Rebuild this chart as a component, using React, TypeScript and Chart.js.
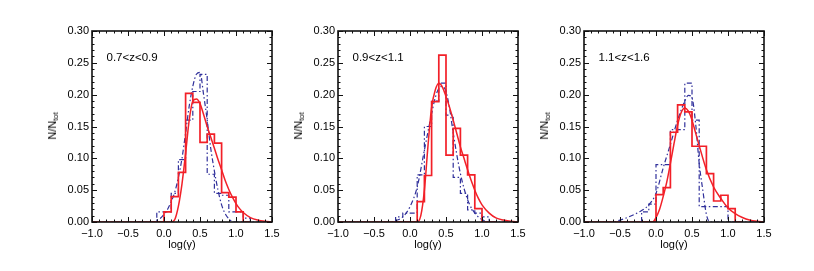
import React, { useEffect, useRef } from "react";
import { Chart, registerables } from "chart.js";

Chart.register(...registerables);

// ---------------- data ----------------
const binEdges = [-0.2, -0.1, 0.0, 0.1, 0.2, 0.3, 0.4, 0.5, 0.6, 0.7, 0.8, 0.9, 1.0, 1.1, 1.2];
const xTickValues = [-1.0, -0.5, 0.0, 0.5, 1.0, 1.5];
const yTickValues = [0, 0.05, 0.1, 0.15, 0.2, 0.25, 0.3];
const panelLabels = ["0.7<z<0.9", "0.9<z<1.1", "1.1<z<1.6"];

// panel 1 : 0.7<z<0.9
const redHist1 = [0, 0, 0.016, 0.040, 0.078, 0.202, 0.188, 0.125, 0.138, 0.124, 0.046, 0.039, 0.016, 0];
const blueHist1 = [0, 0.016, 0.016, 0.045, 0.098, 0.160, 0.205, 0.232, 0.075, 0.045, 0.042, 0.016, 0.016, 0.006];
const redCurveX1 = [-1.0, 0.05, 0.10, 0.15, 0.20, 0.25, 0.30, 0.35, 0.40, 0.45, 0.50, 0.55, 0.60, 0.65, 0.70, 0.75, 0.80, 0.85, 0.90, 0.95, 1.00, 1.05, 1.10, 1.20, 1.30, 1.40, 1.50];
const redCurveY1 = [0, 0, 0.0, 0.004, 0.025, 0.060, 0.108, 0.160, 0.190, 0.193, 0.186, 0.169, 0.150, 0.133, 0.116, 0.098, 0.082, 0.065, 0.051, 0.039, 0.029, 0.021, 0.015, 0.007, 0.003, 0.001, 0];
const blueCurveX1 = [-1.0, -0.15, -0.10, -0.05, 0.0, 0.05, 0.10, 0.15, 0.20, 0.25, 0.30, 0.35, 0.40, 0.45, 0.50, 0.55, 0.60, 0.65, 0.70, 0.75, 0.80, 0.85, 0.90, 0.95, 1.0, 1.5];
const blueCurveY1 = [0, 0, 0.003, 0.006, 0.012, 0.020, 0.032, 0.047, 0.070, 0.100, 0.140, 0.182, 0.213, 0.232, 0.235, 0.200, 0.160, 0.115, 0.080, 0.050, 0.027, 0.013, 0.005, 0.001, 0, 0];

// panel 2 : 0.9<z<1.1
const redHist2 = [0, 0, 0, 0.032, 0.073, 0.189, 0.262, 0.105, 0.147, 0.105, 0.074, 0.021, 0, 0];
const blueHist2 = [0.008, 0.014, 0.014, 0.074, 0.150, 0.190, 0.218, 0.168, 0.070, 0.045, 0.019, 0.014, 0.008, 0];
const redCurveX2 = [-1.0, 0.10, 0.15, 0.20, 0.25, 0.30, 0.35, 0.40, 0.45, 0.50, 0.55, 0.60, 0.65, 0.70, 0.75, 0.80, 0.85, 0.90, 0.95, 1.00, 1.10, 1.20, 1.30, 1.40, 1.50];
const redCurveY2 = [0, 0, 0.010, 0.050, 0.120, 0.180, 0.207, 0.218, 0.212, 0.197, 0.180, 0.160, 0.139, 0.118, 0.100, 0.082, 0.065, 0.050, 0.037, 0.027, 0.014, 0.006, 0.003, 0.001, 0];
const blueCurveX2 = [-1.0, -0.25, -0.20, -0.10, 0.0, 0.10, 0.20, 0.30, 0.35, 0.40, 0.45, 0.50, 0.55, 0.60, 0.70, 0.80, 0.90, 1.00, 1.10, 1.50];
const blueCurveY2 = [0, 0, 0.002, 0.008, 0.024, 0.055, 0.113, 0.170, 0.195, 0.210, 0.213, 0.205, 0.178, 0.140, 0.076, 0.035, 0.014, 0.004, 0, 0];

// panel 3 : 1.1<z<1.6
const redHist3 = [0, 0, 0.043, 0.054, 0.141, 0.184, 0.173, 0.119, 0.119, 0.076, 0.033, 0.042, 0.021, 0];
const blueHist3 = [0.016, 0.028, 0.090, 0.090, 0.145, 0.145, 0.218, 0.160, 0.024, 0.024, 0.024, 0.024, 0, 0];
const redCurveX3 = [-1.0, -0.05, 0.0, 0.05, 0.10, 0.15, 0.20, 0.25, 0.30, 0.35, 0.40, 0.45, 0.50, 0.55, 0.60, 0.70, 0.80, 0.90, 1.00, 1.10, 1.20, 1.30, 1.40, 1.50];
const redCurveY3 = [0, 0, 0.007, 0.020, 0.040, 0.063, 0.092, 0.123, 0.152, 0.172, 0.179, 0.174, 0.160, 0.140, 0.120, 0.082, 0.055, 0.037, 0.022, 0.013, 0.007, 0.003, 0.001, 0];
const blueCurveX3 = [-1.0, -0.60, -0.50, -0.40, -0.30, -0.20, -0.10, 0.0, 0.10, 0.20, 0.30, 0.35, 0.40, 0.45, 0.50, 0.55, 0.60, 0.65, 0.70, 0.75, 1.50];
const blueCurveY3 = [0, 0, 0.003, 0.007, 0.012, 0.018, 0.027, 0.045, 0.085, 0.122, 0.160, 0.176, 0.190, 0.199, 0.195, 0.155, 0.092, 0.050, 0.012, 0, 0];

const panels = [
  { label: panelLabels[0], redHist: redHist1, blueHist: blueHist1, rcx: redCurveX1, rcy: redCurveY1, bcx: blueCurveX1, bcy: blueCurveY1 },
  { label: panelLabels[1], redHist: redHist2, blueHist: blueHist2, rcx: redCurveX2, rcy: redCurveY2, bcx: blueCurveX2, bcy: blueCurveY2 },
  { label: panelLabels[2], redHist: redHist3, blueHist: blueHist3, rcx: redCurveX3, rcy: redCurveY3, bcx: blueCurveX3, bcy: blueCurveY3 },
];

// ---------------- styling ----------------
const RED = "rgb(242,32,40)";
const BLUE = "rgb(48,48,155)";
const FONT = "'Liberation Sans', Arial, Helvetica, sans-serif";
const PLOT_LEFTS = [92, 338.3, 584.3];
const AXIS_W = 56;
const CANVAS_W = 260;
const CANVAS_H = 271;

function histPoints(edges: number[], vals: number[]) {
  const pts = [{ x: edges[0], y: 0 }];
  vals.forEach((v, i) => pts.push({ x: edges[i], y: v }));
  pts.push({ x: edges[edges.length - 1], y: 0 });
  return pts;
}
function curvePoints(xs: number[], ys: number[]) {
  return xs.map((x, i) => ({ x, y: ys[i] }));
}

const frameTicks = {
  id: "frameTicks",
  afterDatasetsDraw(chart: any, _args: any, opts: any) {
    const { ctx, chartArea } = chart;
    const { left, right, top, bottom } = chartArea;
    const xs = chart.scales.x;
    const ys = chart.scales.y;
    ctx.save();
    ctx.strokeStyle = "#111";
    ctx.lineWidth = 1;
    ctx.beginPath();
    for (let i = 0; i <= 25; i++) {
      const v = -1 + i * 0.1;
      const px = Math.round(xs.getPixelForValue(v)) + 0.5;
      const len = i % 5 === 0 ? 5 : 2.5;
      ctx.moveTo(px, bottom);
      ctx.lineTo(px, bottom - len);
      ctx.moveTo(px, top);
      ctx.lineTo(px, top + len);
    }
    for (let i = 0; i <= 30; i++) {
      const v = i * 0.01;
      const py = Math.round(ys.getPixelForValue(v)) + 0.5;
      const len = i % 5 === 0 ? 5 : 2.5;
      ctx.moveTo(left, py);
      ctx.lineTo(left + len, py);
      ctx.moveTo(right, py);
      ctx.lineTo(right - len, py);
    }
    ctx.stroke();
    ctx.lineWidth = 1.6;
    ctx.strokeRect(left, top, right - left, bottom - top);
    // panel label
    ctx.fillStyle = "#000";
    ctx.font = `11.5px ${FONT}`;
    ctx.textBaseline = "middle";
    ctx.textAlign = "left";
    ctx.fillText(opts.text, left + 14.5, top + 27);
    ctx.restore();
  },
};

function fmtX(v: number) {
  if (Math.abs(v) < 1e-9) return "0.0";
  return v < 0 ? "\u2212" + Math.abs(v).toFixed(1) : v.toFixed(1);
}

export default function App() {
  const refs = [useRef<HTMLCanvasElement>(null), useRef<HTMLCanvasElement>(null), useRef<HTMLCanvasElement>(null)];

  useEffect(() => {
    Chart.defaults.font.family = FONT;
    const charts = panels.map((p, idx) => {
      const canvas = refs[idx].current!;
      return new Chart(canvas, {
        type: "line",
        data: {
          datasets: [
            {
              data: histPoints(binEdges, p.redHist),
              borderColor: RED,
              borderWidth: 1.7,
              stepped: "before",
              pointRadius: 0,
              fill: false,
            },
            {
              data: curvePoints(p.rcx, p.rcy),
              borderColor: RED,
              borderWidth: 1.5,
              cubicInterpolationMode: "monotone",
              pointRadius: 0,
              fill: false,
            },
            {
              data: histPoints(binEdges, p.blueHist),
              borderColor: BLUE,
              borderWidth: 1.2,
              borderDash: [5, 2.5, 1.5, 2.5],
              stepped: "before",
              pointRadius: 0,
              fill: false,
            },
            {
              data: curvePoints(p.bcx, p.bcy),
              borderColor: BLUE,
              borderWidth: 1.2,
              borderDash: [5, 2.5, 1.5, 2.5],
              cubicInterpolationMode: "monotone",
              pointRadius: 0,
              fill: false,
            },
          ],
        } as any,
        options: {
          animation: false,
          responsive: false,
          maintainAspectRatio: false,
          events: [],
          layout: { padding: { top: 31, right: 24, left: 0, bottom: 0 } },
          plugins: {
            legend: { display: false },
            tooltip: { enabled: false },
            frameTicks: { text: p.label },
          } as any,
          scales: {
            x: {
              type: "linear",
              min: -1,
              max: 1.5,
              afterBuildTicks: (s: any) => {
                s.ticks = xTickValues.map((v) => ({ value: v }));
              },
              afterFit: (s: any) => {
                s.height = 49;
              },
              grid: { display: false, drawTicks: false },
              border: { display: false },
              ticks: {
                padding: 5,
                maxRotation: 0,
                autoSkip: false,
                color: "#000",
                font: { size: 11, family: FONT },
                callback: (v: any) => fmtX(Number(v)),
              },
              title: {
                display: true,
                text: "log(\u03b3)",
                color: "#000",
                font: { size: 11, family: FONT },
                padding: { top: 0, bottom: 19 },
              },
            },
            y: {
              type: "linear",
              min: 0,
              max: 0.3,
              afterBuildTicks: (s: any) => {
                s.ticks = yTickValues.map((v) => ({ value: v }));
              },
              afterFit: (s: any) => {
                s.width = AXIS_W;
              },
              grid: { display: false, drawTicks: false },
              border: { display: false },
              ticks: {
                padding: 3,
                autoSkip: false,
                color: "#000",
                font: { size: 11, family: FONT },
                callback: (v: any) => Number(v).toFixed(2),
              },
            },
          },
        } as any,
        plugins: [frameTicks as any],
      });
    });
    return () => charts.forEach((c) => c.destroy());
  }, []);

  return (
    <div style={{ position: "absolute", left: 0, top: 0, width: 814, height: 271, background: "#fff", overflow: "hidden" }}>
      {panels.map((p, idx) => (
        <React.Fragment key={idx}>
          <canvas
            ref={refs[idx]}
            width={CANVAS_W}
            height={CANVAS_H}
            style={{ position: "absolute", left: PLOT_LEFTS[idx] - AXIS_W, top: 0, width: CANVAS_W, height: CANVAS_H }}
          />
          <div style={{ position: "absolute", left: PLOT_LEFTS[idx] - 38, top: 126, width: 0, height: 0 }}>
            <div
              style={{
                position: "absolute",
                left: 0,
                top: 0,
                transform: "translate(-50%, -50%) rotate(-90deg)",
                whiteSpace: "nowrap",
                fontFamily: FONT,
                fontSize: 11,
                color: "#000",
                lineHeight: "12px",
              }}
            >
              N/N<sub style={{ fontSize: 7.5, verticalAlign: "-2px" }}>tot</sub>
            </div>
          </div>
        </React.Fragment>
      ))}
    </div>
  );
}
